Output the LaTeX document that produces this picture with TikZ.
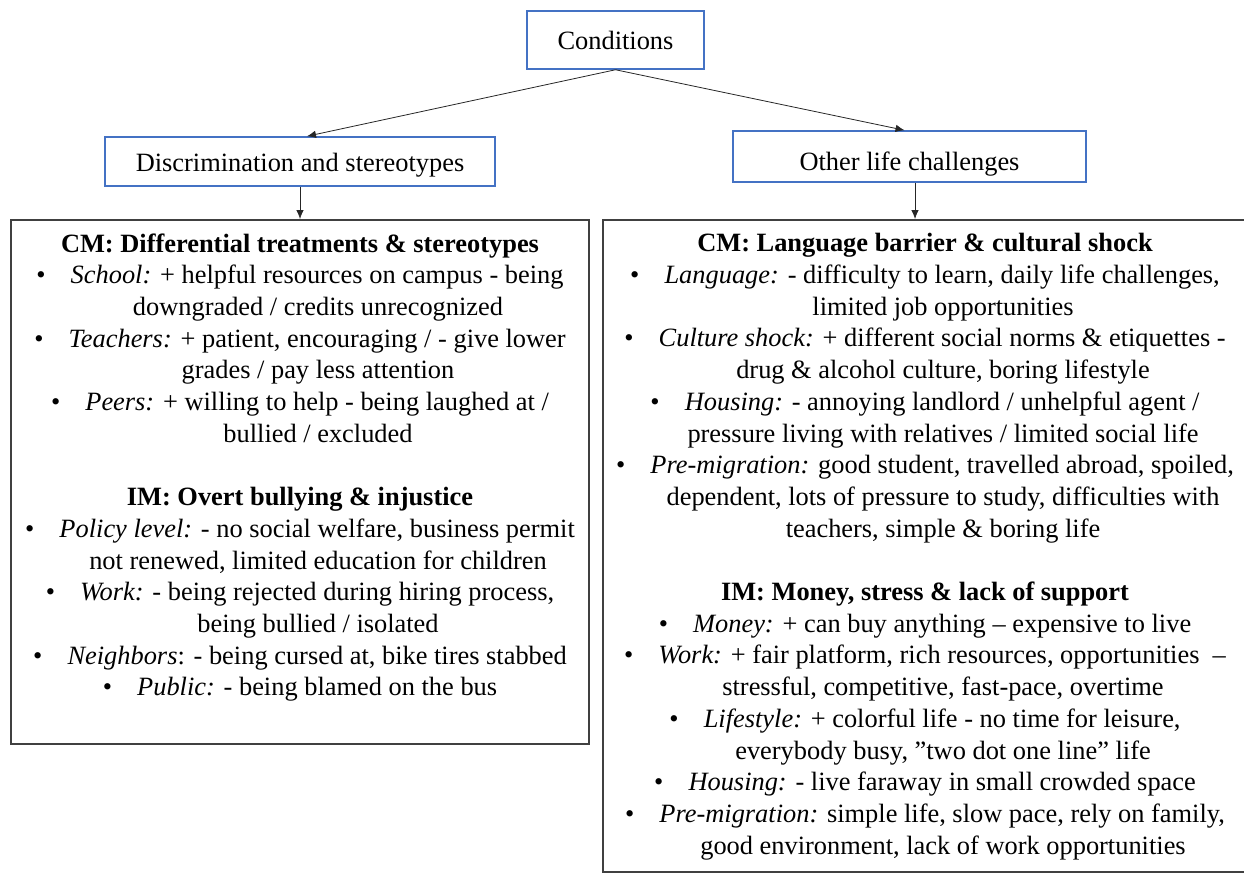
\documentclass[tikz,border=0pt]{standalone}
\usepackage{fontspec}
\setmainfont{Liberation Serif}
\usetikzlibrary{arrows.meta}
\definecolor{boxblue}{RGB}{68,114,196}
\definecolor{boxgray}{RGB}{64,64,64}
\newcommand{\itm}[2]{\textbullet\hspace{0.95em}{\itshape #1} #2}
\newcommand{\cnt}[1]{\hspace*{36pt}#1}

\begin{document}
\begin{tikzpicture}[x=1pt,y=-1pt,
  every node/.style={font=\fontsize{26.4}{31.7}\selectfont},
  head/.style={draw=boxblue, line width=1.5pt, inner sep=0pt},
  bigbox/.style={draw=boxgray, line width=2pt, inner sep=0pt},
  txt/.style={align=center, inner sep=0pt, anchor=north},
  arr/.style={-{Latex[length=9pt,width=7.5pt]}, line width=0.8pt, draw=black!85}]
\useasboundingbox (0,0) rectangle (1244,873);
\node[head, minimum width=177pt, minimum height=58pt] (cond) at (615.5,40) {Conditions};
\node[head, minimum width=390pt, minimum height=49pt, text height=26pt, text depth=5.7pt] (disc) at (300,161.5) {Discrimination and stereotypes};
\node[head, minimum width=353pt, minimum height=51pt, text height=34pt, text depth=5.7pt] (other) at (909.5,156.5) {Other life challenges};
\node[bigbox, minimum width=578pt, minimum height=524pt] (dbox) at (300,482) {};
\node[bigbox, minimum width=645pt, minimum height=652pt] (obox) at (925.5,546) {};
\draw[arr] (cond.south) -- ([xshift=7pt]disc.north);
\draw[arr] (cond.south) -- ([xshift=-5pt]other.north);
\draw[arr] (disc.south) -- (dbox.north);
\draw[arr] ([xshift=5.5pt]other.south) -- ([xshift=5.5pt]other.south |- obox.north);
\node[txt] (dtext) at (300,233.3) {%
\textbf{CM: Differential treatments \& stereotypes}\\
\itm{School:}{+ helpful resources on campus - being}\\
\cnt{downgraded / credits unrecognized}\\
\itm{Teachers:}{+ patient, encouraging / - give lower}\\
\cnt{grades / pay less attention}\\
\itm{Peers:}{+ willing to help - being laughed at /}\\
\cnt{bullied / excluded}\\[31.7pt]
\textbf{IM: Overt bullying \& injustice}\\
\itm{Policy level:}{- no social welfare, business permit}\\
\cnt{not renewed, limited education for children}\\
\itm{Work:}{- being rejected during hiring process,}\\
\cnt{being bullied / isolated}\\
\textbullet\hspace{0.95em}{\itshape Neighbors}: - being cursed at, bike tires stabbed\\
\itm{Public:}{- being blamed on the bus}};
\node[txt] (otext) at (925,233.3) {%
\textbf{CM: Language barrier \& cultural shock}\\
\itm{Language:}{- difficulty to learn, daily life challenges,}\\
\cnt{limited job opportunities}\\
\itm{Culture shock:}{+ different social norms \& etiquettes -}\\
\cnt{drug \& alcohol culture, boring lifestyle}\\
\itm{Housing:}{- annoying landlord / unhelpful agent /}\\
\cnt{pressure living with relatives / limited social life}\\
\itm{Pre-migration:}{good student, travelled abroad, spoiled,}\\
\cnt{dependent, lots of pressure to study, difficulties with}\\
\cnt{teachers, simple \& boring life}\\[31.7pt]
\textbf{IM: Money, stress \& lack of support}\\
\itm{Money:}{+ can buy anything – expensive to live}\\
\itm{Work:}{+ fair platform, rich resources, opportunities \ –}\\
\cnt{stressful, competitive, fast-pace, overtime}\\
\itm{Lifestyle:}{+ colorful life - no time for leisure,}\\
\cnt{everybody busy, ”two dot one line” life}\\
\itm{Housing:}{- live faraway in small crowded space}\\
\itm{Pre-migration:}{simple life, slow pace, rely on family,}\\
\cnt{good environment, lack of work opportunities}};
\end{tikzpicture}
\end{document}
